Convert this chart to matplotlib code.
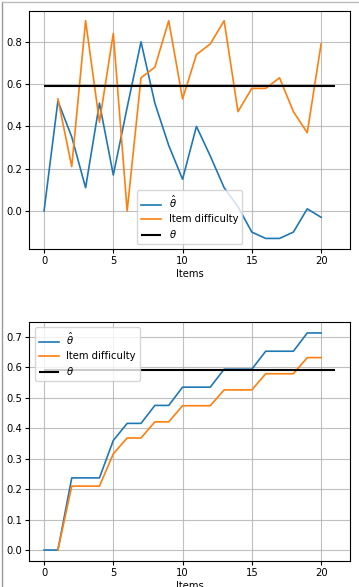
import matplotlib
matplotlib.use("Agg")
import matplotlib.pyplot as plt
from matplotlib.lines import Line2D

items = list(range(21))
theta_true = 0.591

top_theta_hat = [0.0, 0.52, 0.35, 0.11, 0.51, 0.17, 0.49, 0.80, 0.51, 0.31, 0.15,
                 0.40, 0.26, 0.11, 0.02, -0.10, -0.13, -0.13, -0.10, 0.01, -0.03]
top_difficulty = [0.53, 0.21, 0.90, 0.42, 0.84, 0.0, 0.63, 0.68, 0.90, 0.53,
                  0.74, 0.79, 0.90, 0.47, 0.58, 0.58, 0.63, 0.47, 0.37, 0.79]

bot_theta_hat = [0.0, 0.0, 0.237, 0.237, 0.237, 0.36, 0.416, 0.416, 0.475, 0.475, 0.535,
                 0.535, 0.535, 0.594, 0.594, 0.594, 0.653, 0.653, 0.653, 0.713, 0.713]
bot_difficulty = [0.0, 0.21, 0.21, 0.21, 0.316, 0.368, 0.368, 0.421, 0.421, 0.474,
                  0.474, 0.474, 0.526, 0.526, 0.526, 0.579, 0.579, 0.579, 0.632, 0.632]

fs = 7.2
fig = plt.figure(figsize=(3.59, 5.87), dpi=100)
W, H = 359, 587

def make_ax(left, top, right, bottom):
    return fig.add_axes([left / W, 1 - bottom / H, (right - left) / W, (bottom - top) / H])

ax1 = make_ax(29.5, 11, 349.5, 249)
ax2 = make_ax(29.5, 322, 349.5, 561)

for ax, th, diff, loc in [(ax1, top_theta_hat, top_difficulty, "lower center"),
                          (ax2, bot_theta_hat, bot_difficulty, "upper left")]:
    ax.plot(items, th, color="#1f77b4", lw=1.2, label=r"$\hat{\theta}$")
    ax.plot(items[1:], diff, color="#ff7f0e", lw=1.2, label="Item difficulty")
    ax.hlines(theta_true, 0, 21, color="black", lw=1.5, label=r"$\theta$")
    ax.grid(True, color="#b0b0b0", lw=0.8, alpha=0.8)
    ax.set_xlabel("Items", fontsize=fs, labelpad=2)
    ax.tick_params(labelsize=fs, length=3, pad=2)
    ax.set_xticks([0, 5, 10, 15, 20])
    for s in ax.spines.values():
        s.set_linewidth(0.8)
    ax.legend(loc=loc, fontsize=fs, framealpha=0.8, handlelength=2.0,
              borderpad=0.4, labelspacing=0.4)

ax1.set_yticks([0.0, 0.2, 0.4, 0.6, 0.8])
ax1.set_ylim(-0.18, 0.946)
ax2.set_yticks([0.0, 0.1, 0.2, 0.3, 0.4, 0.5, 0.6, 0.7])
ax2.set_ylim(-0.036, 0.749)
for ax in (ax1, ax2):
    ax.set_xlim(-1.05, 22.05)

fig.add_artist(Line2D([1.5 / W, 1.5 / W], [0, 1 - 1.5 / H], color="#999999", lw=1.0,
                      transform=fig.transFigure))
fig.add_artist(Line2D([1.5 / W, 1 - 1.5 / W], [1 - 1.5 / H, 1 - 1.5 / H], color="#bbbbbb", lw=1.0,
                      transform=fig.transFigure))

fig.savefig("out.png", dpi=100)
